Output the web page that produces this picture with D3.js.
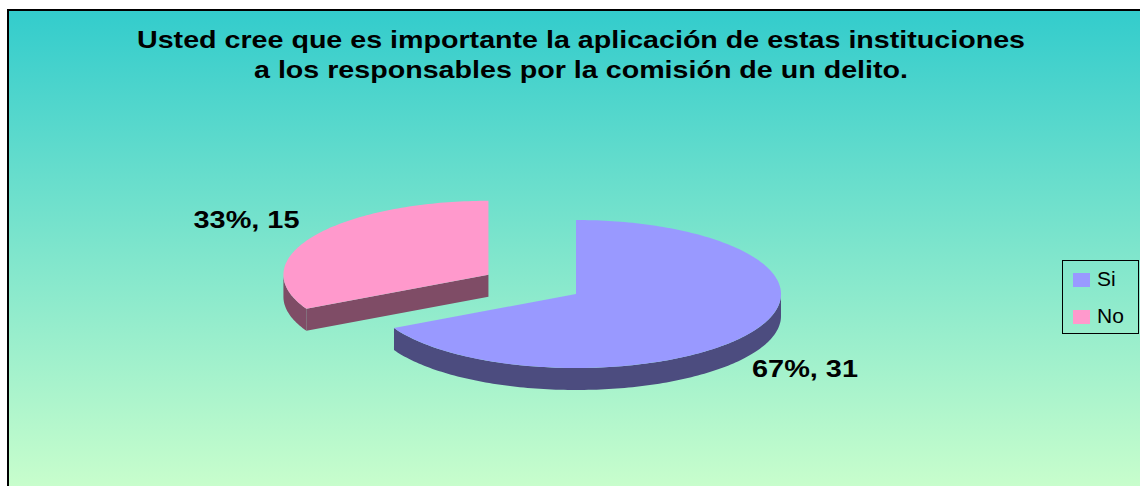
<!DOCTYPE html>
<html>
<head>
<meta charset="utf-8">
<script src="https://cdn.jsdelivr.net/npm/d3@7"></script>
<style>
  body { margin: 0; background: #fff; }
  svg { display: block; }
</style>
</head>
<body>
<div id="chart"></div>
<script>
// data
const categories = ["Si", "No"];
const counts = [31, 15];
const percents = ["67%", "33%"];
const titleLines = [
    "Usted cree que es importante la aplicación de estas instituciones",
    "a los responsables por la comisión de un delito."
];

const width = 1140, height = 486;
const colors = d3.scaleOrdinal().domain(categories).range(["#9999FF", "#FF99CC"]);
const sides = d3.scaleOrdinal().domain(categories).range(["#4C4C7F", "#7F4C66"]);
const explode = d3.scaleOrdinal().domain(categories).range([0, 0.5]);

const svg = d3.select("#chart").append("svg")
    .attr("width", width)
    .attr("height", height);

// background gradient
const grad = svg.append("defs").append("linearGradient")
    .attr("id", "bg")
    .attr("gradientUnits", "userSpaceOnUse")
    .attr("x1", 0).attr("y1", 10).attr("x2", 0).attr("y2", 500);
grad.append("stop").attr("offset", "0%").attr("stop-color", "#33CCCC");
grad.append("stop").attr("offset", "100%").attr("stop-color", "#CCFFCC");

svg.append("rect")
    .attr("x", 8).attr("y", 10)
    .attr("width", 1150).attr("height", 500)
    .attr("fill", "url(#bg)")
    .attr("stroke", "#000")
    .attr("stroke-width", 2);

// title (Excel draws it wider than the font, so stretch it)
const titleWidths = [888, 654];
svg.append("g").selectAll("text")
    .data(titleLines)
    .join("text")
    .attr("x", 581)
    .attr("y", (d, i) => 48 + i * 30)
    .attr("text-anchor", "middle")
    .attr("font-family", "Liberation Sans, Arial, sans-serif")
    .attr("font-weight", "bold")
    .attr("font-size", 24)
    .attr("textLength", (d, i) => titleWidths[i])
    .attr("lengthAdjust", "spacingAndGlyphs")
    .attr("fill", "#000")
    .text(d => d);

// 3d pie
const cx = 576, cy = 294, rx = 205, ry = 74, depth = 22;
const pie = d3.pie().sort(null).value(d => d.value);
const slices = pie(categories.map((c, i) => ({name: c, value: counts[i], pct: percents[i]})));

function pt(a, ox, oy, dz){
    return [cx + ox + rx * Math.sin(a), cy + oy - ry * Math.cos(a) + dz];
}
function arcPts(a0, a1, ox, oy, dz){
    const n = Math.max(2, Math.ceil(Math.abs(a1 - a0) / 0.02));
    return d3.range(n + 1).map(i => pt(a0 + (a1 - a0) * i / n, ox, oy, dz));
}
const line = d3.line();

slices.forEach(s => {
    const mid = (s.startAngle + s.endAngle) / 2;
    const f = explode(s.data.name);
    s.ox = f * rx * Math.sin(mid);
    s.oy = -f * ry * Math.cos(mid);
});

const pieG = svg.append("g");
slices.slice().sort((a, b) => a.oy - b.oy).forEach(s => {
    const g = pieG.append("g");
    const side = sides(s.data.name);
    const apex = [cx + s.ox, cy + s.oy];
    // radial faces
    if (Math.sin(s.startAngle) < -1e-6){
        const e = pt(s.startAngle, s.ox, s.oy, 0);
        g.append("path").attr("fill", side)
            .attr("d", line([apex, e, [e[0], e[1] + depth], [apex[0], apex[1] + depth]]) + "Z");
    }
    if (Math.sin(s.endAngle) > 1e-6){
        const e = pt(s.endAngle, s.ox, s.oy, 0);
        g.append("path").attr("fill", side)
            .attr("d", line([apex, e, [e[0], e[1] + depth], [apex[0], apex[1] + depth]]) + "Z");
    }
    // outer wall (front half only)
    const w0 = Math.max(s.startAngle, Math.PI / 2);
    const w1 = Math.min(s.endAngle, Math.PI * 1.5);
    if (w1 > w0){
        const top = arcPts(w0, w1, s.ox, s.oy, 0);
        const bot = arcPts(w1, w0, s.ox, s.oy, depth);
        g.append("path").attr("fill", side).attr("d", line(top.concat(bot)) + "Z");
    }
    // top face
    g.append("path")
        .attr("fill", colors(s.data.name))
        .attr("d", line([apex].concat(arcPts(s.startAngle, s.endAngle, s.ox, s.oy, 0))) + "Z");
});

// data labels
const labelPos = {Si: [805, 377], No: [246.5, 228]};
svg.append("g").selectAll("text")
    .data(slices)
    .join("text")
    .attr("x", d => labelPos[d.data.name][0])
    .attr("y", d => labelPos[d.data.name][1])
    .attr("text-anchor", "middle")
    .attr("font-family", "Liberation Sans, Arial, sans-serif")
    .attr("font-weight", "bold")
    .attr("font-size", 23)
    .attr("textLength", 106)
    .attr("lengthAdjust", "spacingAndGlyphs")
    .text(d => d.data.pct + ", " + d.data.value);

// legend
const legend = svg.append("g").attr("transform", "translate(1062.5,260.5)");
legend.append("rect")
    .attr("width", 76).attr("height", 73)
    .attr("fill", "none")
    .attr("stroke", "#000")
    .attr("stroke-width", 1);
const item = legend.selectAll("g.item")
    .data(categories)
    .join("g")
    .attr("class", "item")
    .attr("transform", (d, i) => `translate(0,${i * 37})`);
item.append("rect")
    .attr("x", 10.5).attr("y", 12.5)
    .attr("width", 17).attr("height", 14)
    .attr("fill", d => colors(d));
item.append("text")
    .attr("x", 34.5).attr("y", 25.5)
    .attr("font-family", "Liberation Sans, Arial, sans-serif")
    .attr("font-size", 21)
    .text(d => d);
</script>
</body>
</html>
